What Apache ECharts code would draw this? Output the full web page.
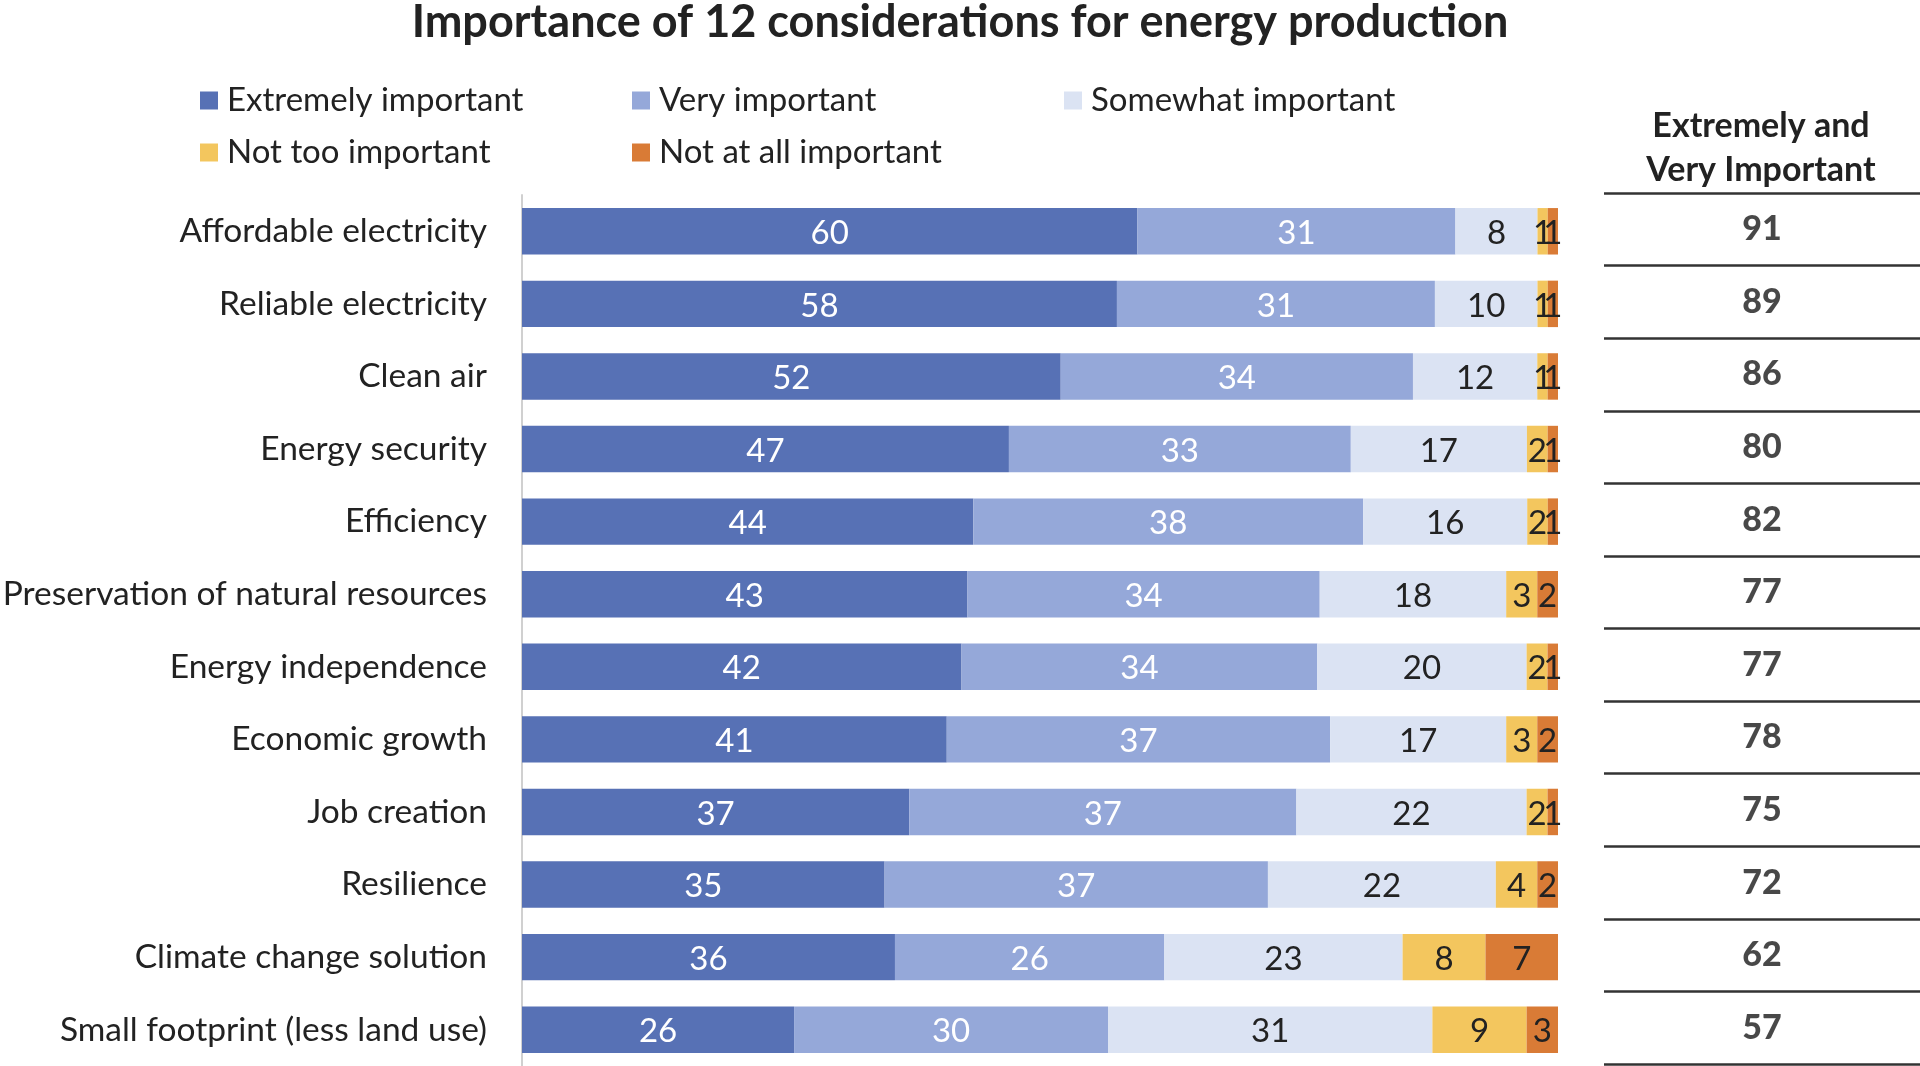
<!DOCTYPE html>
<html>
<head>
<meta charset="utf-8">
<script src="https://cdn.jsdelivr.net/npm/echarts@6/dist/echarts.min.js"></script>
<style>
  html, body { margin: 0; padding: 0; background: #fff; }
  #chart { width: 1920px; height: 1066px; }
</style>
</head>
<body>
<div id="chart"></div>
<script>
var categories = ['Affordable electricity', 'Reliable electricity', 'Clean air', 'Energy security',
  'Efficiency', 'Preservation of natural resources', 'Energy independence', 'Economic growth',
  'Job creation', 'Resilience', 'Climate change solution', 'Small footprint (less land use)'];
var seriesNames = ['Extremely important', 'Very important', 'Somewhat important',
  'Not too important', 'Not at all important'];
var extremely = [60, 58, 52, 47, 44, 43, 42, 41, 37, 35, 36, 26];
var very      = [31, 31, 34, 33, 38, 34, 34, 37, 37, 37, 26, 30];
var somewhat  = [8, 10, 12, 17, 16, 18, 20, 17, 22, 22, 23, 31];
var notToo    = [1, 1, 1, 2, 2, 3, 2, 3, 2, 4, 8, 9];
var notAtAll  = [1, 1, 1, 1, 1, 2, 1, 2, 1, 2, 7, 3];
var totals    = [91, 89, 86, 80, 82, 77, 77, 78, 75, 72, 62, 57];

var colors = ['#5771b5', '#95a8d9', '#dbe3f3', '#f3c65e', '#d97b36'];
var labelColors = ['#fff', '#fff', '#222', '#222', '#222'];
var font = 'Lato';

function stackedchart(){
  var chartDom = document.getElementById('chart');
  var myChart = echarts.init(chartDom);

  var values = [extremely, very, somewhat, notToo, notAtAll];
  // 100% stacked: each row is scaled to its own sum, labels keep the rounded values
  var rowSums = categories.map(function (c, j) {
    return values.reduce(function (s, arr) { return s + arr[j]; }, 0);
  });
  var legendPos = [[200, 84], [632, 84], [1064, 84], [200, 136], [632, 136]];

  var legends = seriesNames.map(function (n, i) {
    return {
      data: [n],
      left: legendPos[i][0],
      top: legendPos[i][1],
      padding: 0,
      icon: 'rect',
      itemWidth: 18,
      itemHeight: 18,
      itemGap: 10,
      selectedMode: false,
      textStyle: { fontFamily: font, fontSize: 33, color: '#222', padding: [0, 0, 0, 4] }
    };
  });

  var series = values.map(function (arr, i) {
    return {
      name: seriesNames[i],
      type: 'bar',
      stack: 'total',
      barWidth: '64%',
      itemStyle: { color: colors[i] },
      label: {
        show: true,
        position: 'inside',
        offset: [0, 2],
        color: labelColors[i],
        fontFamily: font,
        fontSize: 33,
        formatter: function (p) { return arr[p.dataIndex]; }
      },
      data: arr.map(function (v, j) { return v / rowSums[j] * 100; })
    };
  });

  series.push({
    name: 'totals',
    type: 'scatter',
    xAxisIndex: 1,
    yAxisIndex: 1,
    symbolSize: 1,
    itemStyle: { color: 'transparent' },
    label: {
      show: true,
      position: 'inside',
      formatter: function (p) { return totals[p.dataIndex]; },
      fontFamily: font,
      fontWeight: 900,
      fontSize: 34,
      color: '#1a1a1a'
    },
    data: totals.map(function (t, i) { return [0.5, i]; })
  });

  option = {
    backgroundColor: '#fff',
    animation: false,
    title: {
      text: 'Importance of 12 considerations for energy production',
      left: 'center',
      top: 0,
      padding: 0,
      textStyle: { fontFamily: font, fontSize: 45, fontWeight: 'bold', color: '#222' }
    },
    legend: legends,
    graphic: [{
      type: 'text',
      x: 1761,
      y: 104,
      style: {
        text: 'Extremely and\nVery Important',
        textAlign: 'center',
        textVerticalAlign: 'top',
        fontFamily: font,
        fontSize: 34,
        fontWeight: 'bold',
        lineHeight: 44,
        fill: '#222'
      }
    }],
    grid: [
      { left: 522, width: 1036, top: 195, height: 871, outerBoundsMode: 'none' },
      { left: 1604, right: 0, top: 193, height: 871, outerBoundsMode: 'none' }
    ],
    xAxis: [
      { type: 'value', min: 0, max: 100, show: false },
      { type: 'value', gridIndex: 1, min: 0, max: 1, show: false }
    ],
    yAxis: [
      {
        type: 'category',
        data: categories,
        inverse: true,
        axisLine: { show: true, lineStyle: { color: '#d0d0d0', width: 2 } },
        axisTick: { show: false },
        axisLabel: { fontFamily: font, fontSize: 33.5, color: '#222', margin: 35 }
      },
      {
        type: 'category',
        gridIndex: 1,
        data: categories,
        inverse: true,
        axisLine: { show: false },
        axisTick: { show: false },
        axisLabel: { show: false },
        splitLine: { show: true, lineStyle: { color: '#333', width: 2.5 } }
      }
    ],
    series: series
  };

  option && myChart.setOption(option);
}

window.onload = function(e){
  stackedchart();
}
</script>
</body>
</html>
